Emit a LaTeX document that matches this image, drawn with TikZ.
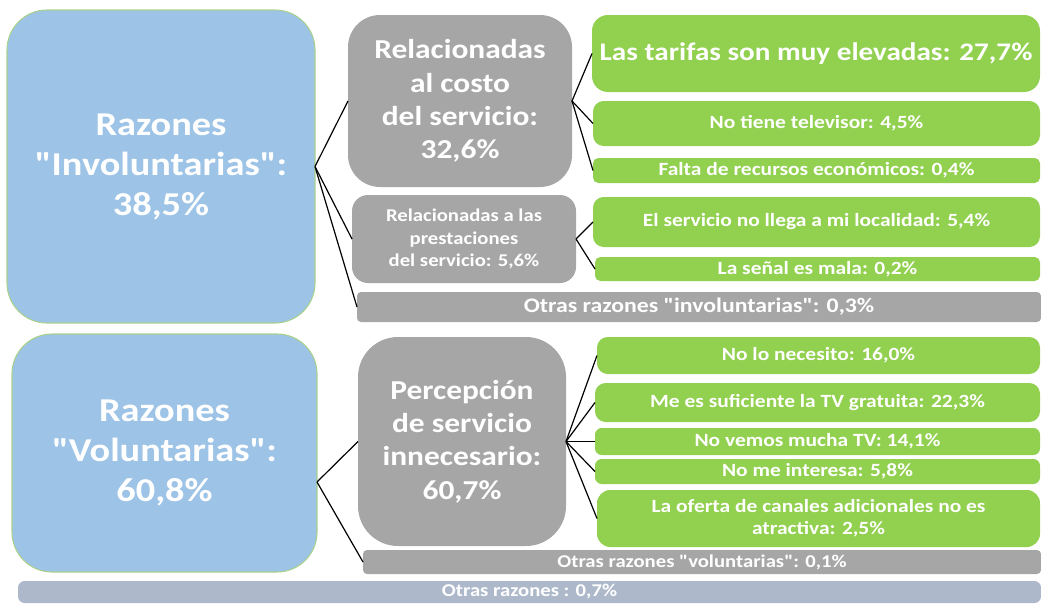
\documentclass[tikz,border=0pt]{standalone}
\usepackage{fontspec}
\setmainfont{Carlito}[FakeStretch=1.15, Ligatures=TeXOff]
\definecolor{razonazul}{HTML}{9DC3E6}
\definecolor{razonborde}{HTML}{A9D18E}
\definecolor{gris}{HTML}{A6A6A6}
\definecolor{verde}{HTML}{92D050}
\definecolor{pizarra}{HTML}{ADB9CA}
\tikzset{
  box/.style={
    draw=none,
    text=white,
    align=center,
    inner sep=2pt,
    outer sep=0pt,
    anchor=north west
  },
  wh/.style 2 args={
    minimum width=#1*0.75pt,
    minimum height=#2*0.75pt
  },
  razon/.style={
    box,
    fill=razonazul,
    draw=razonborde,
    line width=0.8pt,
    rounded corners=30pt,
    font=\fontsize{25}{30}\selectfont\bfseries
  },
  grupo/.style={
    box,
    fill=gris,
    rounded corners=24pt,
    font=\fontsize{20.5}{25}\selectfont\bfseries
  },
  motivo/.style={
    box,
    fill=verde,
    rounded corners=8pt,
    font=\fontsize{14}{16.5}\selectfont\bfseries
  },
  otras/.style={
    box,
    fill=gris,
    rounded corners=3pt,
    font=\fontsize{13.5}{16}\selectfont\bfseries
  },
  rama/.style={
    line width=0.9pt,
    black
  }
}

\begin{document}
\begin{tikzpicture}[x=0.75pt, y=-0.75pt]

  %% ---- marco de la figura ----
  \useasboundingbox (0,0) rectangle (1041,603);
  \clip (0,0) rectangle (1041,603);

  %% ---- razones involuntarias ----
  \node[razon, wh={308}{313}] (inv) at (7,10)
      {Razones\\"Involuntarias":\\38,5\%};
  \node[grupo, wh={224}{172}] (costo) at (348,15)
      {Relacionadas\\al costo\\del servicio:\\32,6\%};
  \node[grupo, rounded corners=12pt, wh={224}{88},
        font=\fontsize{13.5}{17}\selectfont\bfseries] (prest) at (352,195)
      {Relacionadas a las\\prestaciones\\del servicio: 5,6\%};
  \node[otras, wh={684}{30}, font=\fontsize{15.5}{18}\selectfont\bfseries]
      (otrasinv) at (357,292) {Otras razones "involuntarias": 0,3\%};

  % motivos del costo
  \node[motivo, rounded corners=12pt, wh={448}{77},
        font=\fontsize{19}{22}\selectfont\bfseries] (tarifas) at (592,15)
      {Las tarifas son muy elevadas: 27,7\%};
  \node[motivo, wh={447}{45}] (televisor) at (593,101)
      {No tiene televisor: 4,5\%};
  \node[motivo, rounded corners=4pt, wh={447}{25}] (recursos) at (593,158)
      {Falta de recursos económicos: 0,4\%};
  % motivos de las prestaciones
  \node[motivo, wh={447}{50}] (localidad) at (593,197)
      {El servicio no llega a mi localidad: 5,4\%};
  \node[motivo, rounded corners=4pt, wh={445}{24}] (senal) at (595,257)
      {La señal es mala: 0,2\%};

  %% ---- razones voluntarias ----
  \node[razon, wh={305}{238}] (vol) at (12,334)
      {Razones\\"Voluntarias":\\60,8\%};
  \node[grupo, rounded corners=30pt, wh={208}{209}] (percep) at (358,337)
      {Percepción\\de servicio\\innecesario:\\60,7\%};
  \node[otras, wh={678}{24}] (otrasvol) at (363,550)
      {Otras razones "voluntarias": 0,1\%};

  % motivos de la percepción
  \node[motivo, wh={443}{37}] (necesito) at (597,337)
      {No lo necesito: 16,0\%};
  \node[motivo, wh={445}{39}] (gratuita) at (595,383)
      {Me es suficiente la TV gratuita: 22,3\%};
  \node[motivo, rounded corners=5pt, wh={445}{27}] (vemos) at (595,428)
      {No vemos mucha TV: 14,1\%};
  \node[motivo, rounded corners=5pt, wh={445}{25}] (interesa) at (595,459)
      {No me interesa: 5,8\%};
  \node[motivo, rounded corners=10pt, wh={443}{57}] (oferta) at (597,490)
      {La oferta de canales adicionales no es\\atractiva: 2,5\%};

  %% ---- otras razones ----
  \node[otras, fill=pizarra, rounded corners=5pt, wh={1023}{22}, inner sep=0pt]
      (otrasgen) at (18,581) {Otras razones : 0,7\%};

  %% ---- ramas ----
  \foreach \hijo in {costo, prest, otrasinv}
    \draw[rama] (inv.east) -- (\hijo.west);
  \foreach \hijo in {tarifas, televisor, recursos}
    \draw[rama] (costo.east) -- (\hijo.west);
  \foreach \hijo in {localidad, senal}
    \draw[rama] (prest.east) -- (\hijo.west);

  \coordinate (vfork) at (317,482);
  \foreach \hijo in {percep, otrasvol}
    \draw[rama] (vfork) -- (\hijo.west);
  \foreach \hijo in {necesito, gratuita, vemos, interesa, oferta}
    \draw[rama] (percep.east) -- (\hijo.west);

\end{tikzpicture}
\end{document}
